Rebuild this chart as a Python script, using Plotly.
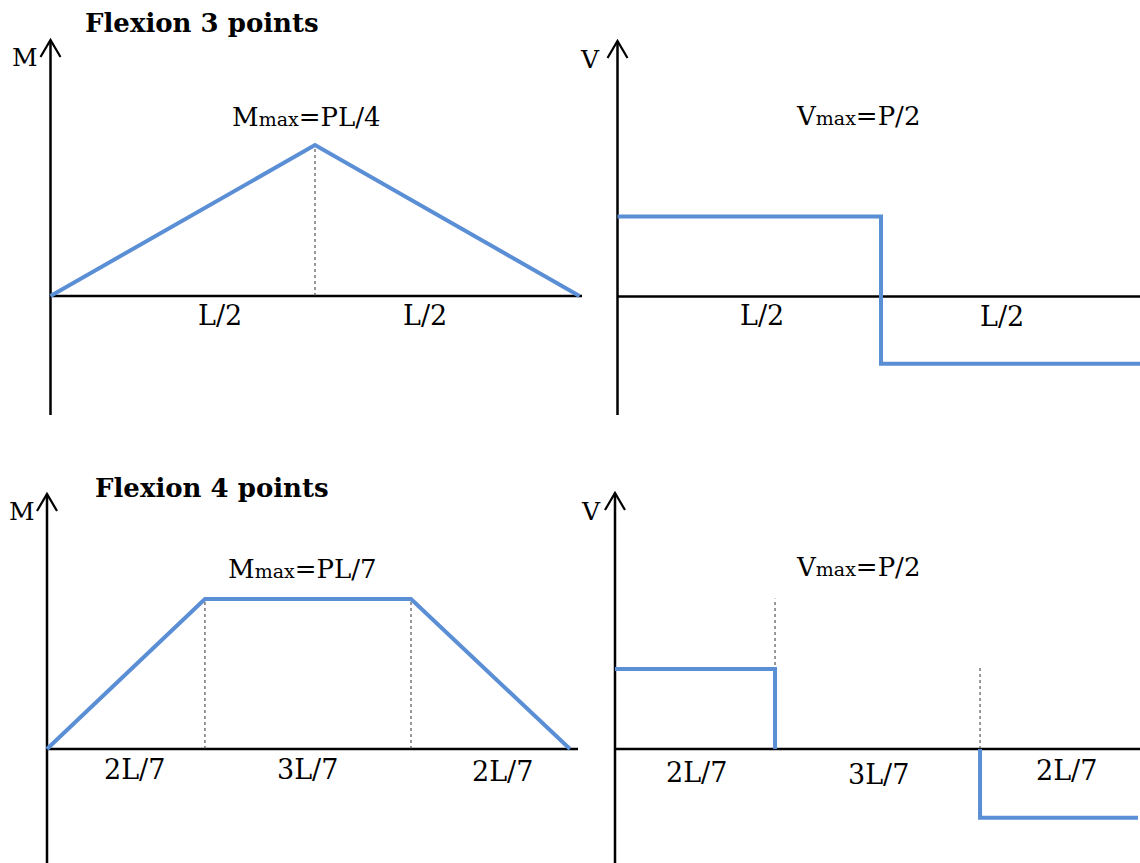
import plotly.graph_objects as go

W, H = 1140, 863
BLUE = "#5A8ED5"
FONT = "DejaVu Serif"

# ---------------- data (P = 1, L = 1) ----------------
# Flexion 3 points : bending moment
m3_x = [0.0, 0.5, 1.0]
m3_y = [0.0, 0.25, 0.0]                # Mmax = PL/4
m3_guide_x = [0.5]
m3_guide_top = [0.25]
m3_seg_labels = ["L/2", "L/2"]
m3_seg_label_x = [0.32, 0.707]

# Flexion 3 points : shear force
v3_x = [0.0, 0.5, 0.5, 1.0]
v3_y = [0.5, 0.5, -0.42, -0.42]        # Vmax = P/2
v3_guide_x = []
v3_guide_top = []
v3_seg_labels = ["L/2", "L/2"]
v3_seg_label_x = [0.274, 0.730]

# Flexion 4 points : bending moment
m4_x = [0.0, 0.302, 0.696, 1.0]
m4_y = [0.0, 1 / 7, 1 / 7, 0.0]        # Mmax = PL/7
m4_guide_x = [0.302, 0.696]
m4_guide_top = [1 / 7, 1 / 7]
m4_seg_labels = ["2L/7", "3L/7", "2L/7"]
m4_seg_label_x = [0.168, 0.499, 0.871]

# Flexion 4 points : shear force
v4_x = [0.0, 0.306, 0.306, None, 0.698, 0.698, 1.0]
v4_y = [0.5, 0.5, 0.0, None, 0.0, -0.43, -0.43]
v4_guide_x = [0.306, 0.698]
v4_guide_top = [0.94, 0.52]
v4_seg_labels = ["2L/7", "3L/7", "2L/7"]
v4_seg_label_x = [0.155, 0.503, 0.864]

titles = ["Flexion 3 points", "Flexion 4 points"]
max_texts = [
    "M<span style='font-size:19px'>max</span>=PL/4",
    "V<span style='font-size:19px'>max</span>=P/2",
    "M<span style='font-size:19px'>max</span>=PL/7",
    "V<span style='font-size:19px'>max</span>=P/2",
]
axis_letters = ["M", "V", "M", "V"]

# ---------------- layout of the four panels (pixels) ----------------
panels = [
    dict(x=m3_x, y=m3_y, gx=m3_guide_x, gt=m3_guide_top, lab=m3_seg_labels, labx=m3_seg_label_x,
         labpy=[316, 316], origin=50.5, ppx=529, zero=296, ppy=604, right=582, tip=40, bottom=415,
         letter=(24.5, 58), maxpos=(306, 117)),
    dict(x=v3_x, y=v3_y, gx=v3_guide_x, gt=v3_guide_top, lab=v3_seg_labels, labx=v3_seg_label_x,
         labpy=[315, 316], origin=617.5, ppx=527, zero=296.5, ppy=160, right=1140, tip=41, bottom=415,
         letter=(590, 59), maxpos=(858, 116)),
    dict(x=m4_x, y=m4_y, gx=m4_guide_x, gt=m4_guide_top, lab=m4_seg_labels, labx=m4_seg_label_x,
         labpy=[769, 769.5, 771], origin=47, ppx=523, zero=749, ppy=1050, right=578, tip=494, bottom=863,
         letter=(21.5, 511), maxpos=(302, 569)),
    dict(x=v4_x, y=v4_y, gx=v4_guide_x, gt=v4_guide_top, lab=v4_seg_labels, labx=v4_seg_label_x,
         labpy=[772, 774, 770], origin=615, ppx=523, zero=749, ppy=160, right=1140, tip=493, bottom=863,
         letter=(591, 511), maxpos=(858, 567)),
]
title_pos = [(201.5, 23.5), (211.5, 488)]

fig = go.Figure()
shapes = []
annotations = []
layout_axes = {}

for i, p in enumerate(panels):
    n = i + 1
    xa = "x" if n == 1 else f"x{n}"
    ya = "y" if n == 1 else f"y{n}"
    left_px = p["origin"] - 14
    right_px = min(p["right"] + 14, W)
    top_px = p["tip"] - 12
    bot_px = min(p["bottom"] + 12, H)
    xrange_ = [(left_px - p["origin"]) / p["ppx"], (right_px - p["origin"]) / p["ppx"]]
    yrange_ = [(p["zero"] - bot_px) / p["ppy"], (p["zero"] - top_px) / p["ppy"]]
    common = dict(showgrid=False, zeroline=False, showticklabels=False, ticks="",
                  showline=False, fixedrange=True)
    layout_axes["xaxis" if n == 1 else f"xaxis{n}"] = dict(
        domain=[left_px / W, right_px / W], range=xrange_, anchor=ya, **common)
    layout_axes["yaxis" if n == 1 else f"yaxis{n}"] = dict(
        domain=[1 - bot_px / H, 1 - top_px / H], range=yrange_, anchor=xa, **common)

    # dotted guides
    for gx, gt in zip(p["gx"], p["gt"]):
        fig.add_trace(go.Scatter(x=[gx, gx], y=[0, gt], mode="lines", xaxis=xa, yaxis=ya,
                                 line=dict(color="#333333", width=1, dash="dot"),
                                 hoverinfo="skip", showlegend=False))
    # diagram line
    fig.add_trace(go.Scatter(x=p["x"], y=p["y"], mode="lines", xaxis=xa, yaxis=ya,
                             line=dict(color=BLUE, width=4), connectgaps=False,
                             hoverinfo="skip", showlegend=False))

    # axes (black) drawn beneath the traces
    y_tip = (p["zero"] - p["tip"]) / p["ppy"]
    y_bot = (p["zero"] - p["bottom"]) / p["ppy"]
    x_end = (p["right"] - p["origin"]) / p["ppx"]
    shapes.append(dict(type="line", xref=xa, yref=ya, x0=0, x1=0, y0=y_bot, y1=y_tip,
                       line=dict(color="black", width=2.5), layer="below"))
    shapes.append(dict(type="line", xref=xa, yref=ya, x0=0, x1=x_end, y0=0, y1=0,
                       line=dict(color="black", width=2.5), layer="below"))
    shapes.append(dict(type="path", xref=xa, yref=ya, xsizemode="pixel", ysizemode="pixel",
                       xanchor=0, yanchor=y_tip, path="M-10,-17 L0,0 L10,-17",
                       line=dict(color="black", width=2.2)))

    # segment labels
    for t, lx, lpy in zip(p["lab"], p["labx"], p["labpy"]):
        annotations.append(dict(text=t, x=lx, y=0, xref=xa, yref=ya, yshift=p["zero"] - lpy,
                                showarrow=False, xanchor="center", yanchor="middle",
                                font=dict(family=FONT, size=27, color="black")))
    # axis letter
    lx, ly = p["letter"]
    annotations.append(dict(text=axis_letters[i], x=lx / W, y=1 - ly / H, xref="paper", yref="paper",
                            showarrow=False, xanchor="center", yanchor="middle",
                            font=dict(family=FONT, size=25, color="black")))
    # max label
    mx, my = p["maxpos"]
    annotations.append(dict(text=max_texts[i], x=mx / W, y=1 - my / H, xref="paper", yref="paper",
                            showarrow=False, xanchor="center", yanchor="middle",
                            font=dict(family=FONT, size=26, color="black")))

for t, (tx, ty) in zip(titles, title_pos):
    annotations.append(dict(text=f"<b>{t}</b>", x=tx / W, y=1 - ty / H, xref="paper", yref="paper",
                            showarrow=False, xanchor="center", yanchor="middle",
                            font=dict(family=FONT, size=26, color="black")))

fig.update_layout(
    width=W, height=H, margin=dict(l=0, r=0, t=0, b=0),
    paper_bgcolor="white", plot_bgcolor="rgba(0,0,0,0)",
    showlegend=False, shapes=shapes, annotations=annotations, **layout_axes,
)

fig.write_html(
    "out.html",
    config={"displayModeBar": False, "staticPlot": True},
    post_script="document.body.style.margin='0';document.body.style.overflow='hidden';",
)
